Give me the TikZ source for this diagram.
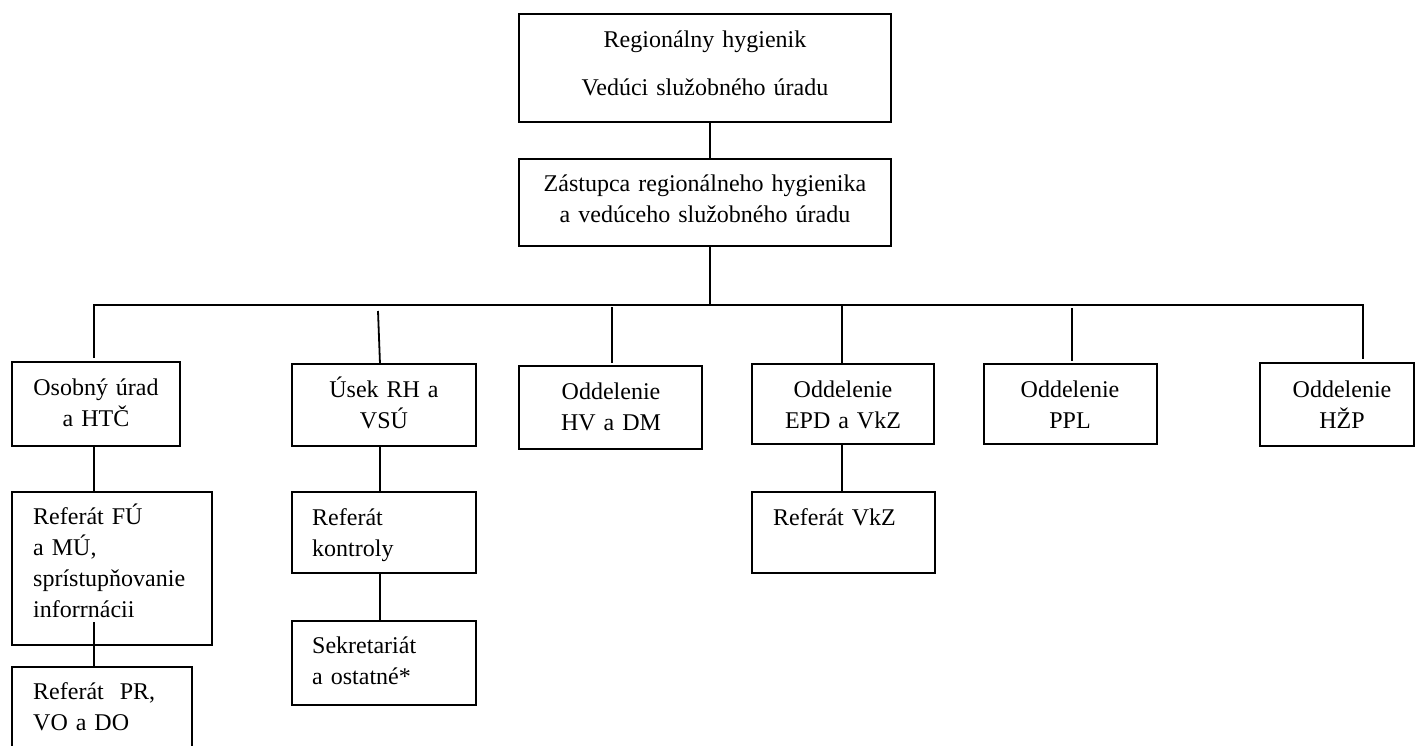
\documentclass[tikz,border=0pt]{standalone}
\usepackage{fontspec}
\setmainfont{Liberation Serif}
\usetikzlibrary{calc}
\begin{document}
\begin{tikzpicture}[x=1pt,y=1pt,
  box/.style={draw, line width=2pt, inner sep=0pt, outer sep=0pt, anchor=north west},
  conn/.style={line width=1.8pt},
  ctxt/.style={font=\fontsize{24}{31}\selectfont, inner sep=0pt, anchor=base, align=center, text width=#1},
  ltxt/.style={font=\fontsize{24}{31}\selectfont, inner sep=0pt, anchor=base west, align=left, text width=#1}]
\useasboundingbox (0,0) rectangle (1415,-745);
\clip (0,0) rectangle (1415,-745);

% boxes
\node[box, minimum width=372, minimum height=108] (rh) at (519,-14) {};
\node[box, minimum width=372, minimum height=87] (zast) at (519,-159) {};
\node[box, minimum width=168, minimum height=84] (osob) at (12,-362) {};
\node[box, minimum width=184, minimum height=82] (usek) at (292,-364) {};
\node[box, minimum width=183, minimum height=83] (hvdm) at (519,-366) {};
\node[box, minimum width=182, minimum height=80] (epd) at (752,-364) {};
\node[box, minimum width=173, minimum height=80] (ppl) at (984,-364) {};
\node[box, minimum width=154, minimum height=83] (hzp) at (1260,-363) {};
\node[box, minimum width=200, minimum height=153] (reffu) at (12,-492) {};
\node[box, minimum width=180, minimum height=82] (refpr) at (12,-667) {};
\node[box, minimum width=184, minimum height=81] (refk) at (292,-492) {};
\node[box, minimum width=184, minimum height=84] (sekr) at (292,-621) {};
\node[box, minimum width=183, minimum height=81] (refvkz) at (752,-492) {};

% texts
\node[ctxt=372] (trh) at (705,-47) {Regionálny hygienik\\[17pt]Vedúci služobného úradu};
\node[ctxt=372] (tzast) at (705,-191) {Zástupca regionálneho hygienika\\a vedúceho služobného úradu};
\node[ctxt=160] (tosob) at (96,-395) {Osobný úrad\\a HTČ};
\node[ctxt=180] (tusek) at (384,-397) {Úsek RH a\\VSÚ};
\node[ctxt=180] (thvdm) at (611,-399) {Oddelenie\\HV a DM};
\node[ctxt=180] (tepd) at (843,-397) {Oddelenie\\EPD a VkZ};
\node[ctxt=170] (tppl) at (1070,-397) {Oddelenie\\PPL};
\node[ctxt=140] (thzp) at (1342,-397) {Oddelenie\\HŽP};
\node[ltxt=170] (treffu) at (33,-524) {Referát FÚ\\a MÚ,\\sprístupňovanie\\inforrnácii};
\node[ltxt=160] (trefpr) at (33,-699) {Referát~ PR,\\VO a DO};
\node[ltxt=160] (trefk) at (312,-525) {Referát\\kontroly};
\node[ltxt=160] (tsekr) at (312,-653) {Sekretariát\\a ostatné*};
\node[ltxt=160] (trefvkz) at (773,-525) {Referát VkZ};

% connector columns
\coordinate (h) at (0,-305);
\coordinate (cA) at (94,0);
\coordinate (cB) at (380,0);
\coordinate (cC) at (612,0);
\coordinate (cD) at (842,0);
\coordinate (cE) at (1072,0);
\coordinate (cF) at (1363,0);
\coordinate (cT) at (710,0);

\draw[conn] (cT |- rh.south) -- (cT |- zast.north);
\draw[conn] (cT |- zast.south) -- (cT |- h);
\draw[conn] ($(cA |- osob.north)+(0,4)$) -- (cA |- h) -- (cF |- h) -- ($(cF |- hzp.north)+(0,4)$);
\draw[conn] ($(cB |- h)+(-2,-6)$) -- (cB |- usek.north);
\draw[conn] ($(cC |- h)+(0,-2)$) -- ($(cC |- hvdm.north)+(0,3)$);
\draw[conn] (cD |- h) -- (cD |- epd.north);
\draw[conn] ($(cE |- h)+(0,-3)$) -- ($(cE |- ppl.north)+(0,3)$);
\draw[conn] (cA |- osob.south) -- (cA |- reffu.north);
\draw[conn] ($(cA |- reffu.south)+(0,23)$) -- (cA |- refpr.north);
\draw[conn] (cB |- usek.south) -- (cB |- refk.north);
\draw[conn] (cB |- refk.south) -- (cB |- sekr.north);
\draw[conn] (cD |- epd.south) -- (cD |- refvkz.north);
\end{tikzpicture}
\end{document}
